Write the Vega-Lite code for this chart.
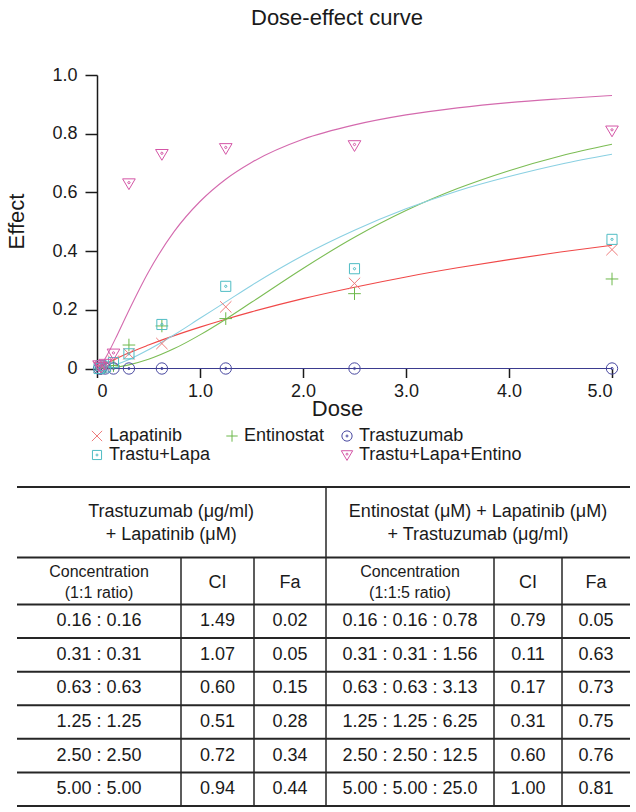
{
  "$schema": "https://vega.github.io/schema/vega-lite/v6.json",
  "width": 636,
  "height": 812,
  "autosize": "none",
  "padding": 0,
  "background": "white",
  "title": {"text": "Dose-effect curve", "fontSize": 22, "font": "Liberation Sans", "fontWeight": "normal", "color": "#1a1a1a", "anchor": "middle", "offset": 0, "dx": 19, "dy": 30},
  "config": {
    "font": "Liberation Sans",
    "view": {"stroke": null},
    "axis": {"grid": false, "labelFont": "Liberation Sans", "labelFontSize": 18, "labelColor": "#1a1a1a", "tickColor": "#1a1a1a", "tickWidth": 1.5, "domainColor": "#1a1a1a", "domainWidth": 1.5, "titleFont": "Liberation Sans", "titleFontSize": 22, "titleFontWeight": "normal", "titleColor": "#1a1a1a"},
    "text": {"font": "Liberation Sans", "color": "#1a1a1a"}
  },
  "datasets": {
    "curves": [
      {"series": "Trastu+Lapa+Entino", "dose": 0.02, "effect": 0.005},
      {"series": "Trastu+Lapa+Entino", "dose": 0.05, "effect": 0.018},
      {"series": "Trastu+Lapa+Entino", "dose": 0.1, "effect": 0.047},
      {"series": "Trastu+Lapa+Entino", "dose": 0.2, "effect": 0.117},
      {"series": "Trastu+Lapa+Entino", "dose": 0.3, "effect": 0.191},
      {"series": "Trastu+Lapa+Entino", "dose": 0.5, "effect": 0.329},
      {"series": "Trastu+Lapa+Entino", "dose": 0.75, "effect": 0.467},
      {"series": "Trastu+Lapa+Entino", "dose": 1.0, "effect": 0.569},
      {"series": "Trastu+Lapa+Entino", "dose": 1.25, "effect": 0.645},
      {"series": "Trastu+Lapa+Entino", "dose": 1.5, "effect": 0.702},
      {"series": "Trastu+Lapa+Entino", "dose": 2.0, "effect": 0.781},
      {"series": "Trastu+Lapa+Entino", "dose": 2.5, "effect": 0.83},
      {"series": "Trastu+Lapa+Entino", "dose": 3.0, "effect": 0.864},
      {"series": "Trastu+Lapa+Entino", "dose": 3.5, "effect": 0.888},
      {"series": "Trastu+Lapa+Entino", "dose": 4.0, "effect": 0.906},
      {"series": "Trastu+Lapa+Entino", "dose": 4.5, "effect": 0.919},
      {"series": "Trastu+Lapa+Entino", "dose": 5.0, "effect": 0.93},
      {"series": "Lapatinib", "dose": 0.02, "effect": 0.0045},
      {"series": "Lapatinib", "dose": 0.05, "effect": 0.0104},
      {"series": "Lapatinib", "dose": 0.1, "effect": 0.019},
      {"series": "Lapatinib", "dose": 0.2, "effect": 0.036},
      {"series": "Lapatinib", "dose": 0.3, "effect": 0.052},
      {"series": "Lapatinib", "dose": 0.5, "effect": 0.08},
      {"series": "Lapatinib", "dose": 0.75, "effect": 0.112},
      {"series": "Lapatinib", "dose": 1.0, "effect": 0.141},
      {"series": "Lapatinib", "dose": 1.25, "effect": 0.168},
      {"series": "Lapatinib", "dose": 1.5, "effect": 0.193},
      {"series": "Lapatinib", "dose": 2.0, "effect": 0.238},
      {"series": "Lapatinib", "dose": 2.5, "effect": 0.277},
      {"series": "Lapatinib", "dose": 3.0, "effect": 0.312},
      {"series": "Lapatinib", "dose": 3.5, "effect": 0.343},
      {"series": "Lapatinib", "dose": 4.0, "effect": 0.371},
      {"series": "Lapatinib", "dose": 4.5, "effect": 0.397},
      {"series": "Lapatinib", "dose": 5.0, "effect": 0.42},
      {"series": "Entinostat", "dose": 0.02, "effect": 0.0001},
      {"series": "Entinostat", "dose": 0.05, "effect": 0.0003},
      {"series": "Entinostat", "dose": 0.1, "effect": 0.0013},
      {"series": "Entinostat", "dose": 0.2, "effect": 0.0051},
      {"series": "Entinostat", "dose": 0.3, "effect": 0.0115},
      {"series": "Entinostat", "dose": 0.5, "effect": 0.0313},
      {"series": "Entinostat", "dose": 0.75, "effect": 0.0678},
      {"series": "Entinostat", "dose": 1.0, "effect": 0.1146},
      {"series": "Entinostat", "dose": 1.25, "effect": 0.168},
      {"series": "Entinostat", "dose": 1.5, "effect": 0.2255},
      {"series": "Entinostat", "dose": 2.0, "effect": 0.341},
      {"series": "Entinostat", "dose": 2.5, "effect": 0.447},
      {"series": "Entinostat", "dose": 3.0, "effect": 0.538},
      {"series": "Entinostat", "dose": 3.5, "effect": 0.613},
      {"series": "Entinostat", "dose": 4.0, "effect": 0.674},
      {"series": "Entinostat", "dose": 4.5, "effect": 0.724},
      {"series": "Entinostat", "dose": 5.0, "effect": 0.764},
      {"series": "Trastu+Lapa", "dose": 0.02, "effect": 0.0004},
      {"series": "Trastu+Lapa", "dose": 0.05, "effect": 0.0017},
      {"series": "Trastu+Lapa", "dose": 0.1, "effect": 0.0051},
      {"series": "Trastu+Lapa", "dose": 0.2, "effect": 0.0154},
      {"series": "Trastu+Lapa", "dose": 0.3, "effect": 0.029},
      {"series": "Trastu+Lapa", "dose": 0.5, "effect": 0.064},
      {"series": "Trastu+Lapa", "dose": 0.75, "effect": 0.115},
      {"series": "Trastu+Lapa", "dose": 1.0, "effect": 0.171},
      {"series": "Trastu+Lapa", "dose": 1.25, "effect": 0.227},
      {"series": "Trastu+Lapa", "dose": 1.5, "effect": 0.283},
      {"series": "Trastu+Lapa", "dose": 2.0, "effect": 0.385},
      {"series": "Trastu+Lapa", "dose": 2.5, "effect": 0.471},
      {"series": "Trastu+Lapa", "dose": 3.0, "effect": 0.544},
      {"series": "Trastu+Lapa", "dose": 3.5, "effect": 0.605},
      {"series": "Trastu+Lapa", "dose": 4.0, "effect": 0.654},
      {"series": "Trastu+Lapa", "dose": 4.5, "effect": 0.696},
      {"series": "Trastu+Lapa", "dose": 5.0, "effect": 0.73},
      {"series": "Trastuzumab", "dose": 0, "effect": 0},
      {"series": "Trastuzumab", "dose": 5.0, "effect": 0}
    ],
    "points": [
      {"series": "Lapatinib", "dose": 0.02, "effect": 0.005},
      {"series": "Lapatinib", "dose": 0.04, "effect": 0.005},
      {"series": "Lapatinib", "dose": 0.08, "effect": 0.01},
      {"series": "Lapatinib", "dose": 0.16, "effect": 0.025},
      {"series": "Lapatinib", "dose": 0.31, "effect": 0.05},
      {"series": "Lapatinib", "dose": 0.63, "effect": 0.085},
      {"series": "Lapatinib", "dose": 1.25, "effect": 0.21},
      {"series": "Lapatinib", "dose": 2.5, "effect": 0.29},
      {"series": "Lapatinib", "dose": 5.0, "effect": 0.405},
      {"series": "Entinostat", "dose": 0.04, "effect": 0.0},
      {"series": "Entinostat", "dose": 0.08, "effect": 0.005},
      {"series": "Entinostat", "dose": 0.16, "effect": 0.01},
      {"series": "Entinostat", "dose": 0.31, "effect": 0.08},
      {"series": "Entinostat", "dose": 0.63, "effect": 0.145},
      {"series": "Entinostat", "dose": 1.25, "effect": 0.17},
      {"series": "Entinostat", "dose": 2.5, "effect": 0.255},
      {"series": "Entinostat", "dose": 5.0, "effect": 0.305},
      {"series": "Trastuzumab", "dose": 0.02, "effect": 0},
      {"series": "Trastuzumab", "dose": 0.04, "effect": 0},
      {"series": "Trastuzumab", "dose": 0.08, "effect": 0},
      {"series": "Trastuzumab", "dose": 0.16, "effect": 0},
      {"series": "Trastuzumab", "dose": 0.31, "effect": 0},
      {"series": "Trastuzumab", "dose": 0.63, "effect": 0},
      {"series": "Trastuzumab", "dose": 1.25, "effect": 0},
      {"series": "Trastuzumab", "dose": 2.5, "effect": 0},
      {"series": "Trastuzumab", "dose": 5.0, "effect": 0},
      {"series": "Trastu+Lapa", "dose": 0.02, "effect": 0.0},
      {"series": "Trastu+Lapa", "dose": 0.04, "effect": 0.01},
      {"series": "Trastu+Lapa", "dose": 0.08, "effect": 0.005},
      {"series": "Trastu+Lapa", "dose": 0.16, "effect": 0.02},
      {"series": "Trastu+Lapa", "dose": 0.31, "effect": 0.05},
      {"series": "Trastu+Lapa", "dose": 0.63, "effect": 0.15},
      {"series": "Trastu+Lapa", "dose": 1.25, "effect": 0.28},
      {"series": "Trastu+Lapa", "dose": 2.5, "effect": 0.34},
      {"series": "Trastu+Lapa", "dose": 5.0, "effect": 0.44},
      {"series": "Trastu+Lapa+Entino", "dose": 0.02, "effect": 0.01},
      {"series": "Trastu+Lapa+Entino", "dose": 0.04, "effect": 0.005},
      {"series": "Trastu+Lapa+Entino", "dose": 0.08, "effect": 0.015},
      {"series": "Trastu+Lapa+Entino", "dose": 0.16, "effect": 0.05},
      {"series": "Trastu+Lapa+Entino", "dose": 0.31, "effect": 0.63},
      {"series": "Trastu+Lapa+Entino", "dose": 0.63, "effect": 0.73},
      {"series": "Trastu+Lapa+Entino", "dose": 1.25, "effect": 0.75},
      {"series": "Trastu+Lapa+Entino", "dose": 2.5, "effect": 0.76},
      {"series": "Trastu+Lapa+Entino", "dose": 5.0, "effect": 0.81}
    ],
    "table": [
      {"row": 1, "conc1": "0.16 : 0.16", "ci1": "1.49", "fa1": "0.02", "conc3": "0.16 : 0.16 :  0.78", "ci3": "0.79", "fa3": "0.05"},
      {"row": 2, "conc1": "0.31 : 0.31", "ci1": "1.07", "fa1": "0.05", "conc3": "0.31 : 0.31 :  1.56", "ci3": "0.11", "fa3": "0.63"},
      {"row": 3, "conc1": "0.63 : 0.63", "ci1": "0.60", "fa1": "0.15", "conc3": "0.63 : 0.63 : 3.13", "ci3": "0.17", "fa3": "0.73"},
      {"row": 4, "conc1": "1.25 : 1.25", "ci1": "0.51", "fa1": "0.28", "conc3": "1.25 : 1.25 : 6.25", "ci3": "0.31", "fa3": "0.75"},
      {"row": 5, "conc1": "2.50 : 2.50", "ci1": "0.72", "fa1": "0.34", "conc3": "2.50 : 2.50 : 12.5", "ci3": "0.60", "fa3": "0.76"},
      {"row": 6, "conc1": "5.00 : 5.00", "ci1": "0.94", "fa1": "0.44", "conc3": "5.00 : 5.00 : 25.0", "ci3": "1.00", "fa3": "0.81"}
    ],
    "headers": [
      {"col": 0.94, "row": -2.26, "label": "Trastuzumab (μg/ml)\n+ Lapatinib (μM)"},
      {"col": 3.905, "row": -2.26, "label": "Entinostat (μM) + Lapatinib (μM)\n+ Trastuzumab (μg/ml)"}
    ],
    "subheaders": [
      {"col": 0.5, "row": -0.47, "label": "Concentration\n(1:1 ratio)"},
      {"col": 3.5, "row": -0.47, "label": "Concentration\n(1:1:5 ratio)"}
    ],
    "shortheaders": [
      {"col": 1.5, "row": -0.15, "label": "CI"},
      {"col": 2.5, "row": -0.15, "label": "Fa"},
      {"col": 4.5, "row": -0.15, "label": "CI"},
      {"col": 5.5, "row": -0.15, "label": "Fa"}
    ],
    "hlines": [
      {"row": -3}, {"row": -0.9}, {"row": 0.5}, {"row": 1.5}, {"row": 2.5},
      {"row": 3.5}, {"row": 4.5}, {"row": 5.5}, {"row": 6.5}
    ],
    "vlines": [
      {"col": 3, "row": -3}, {"col": 1, "row": -0.9}, {"col": 2, "row": -0.9},
      {"col": 4, "row": -0.9}, {"col": 5, "row": -0.9}
    ]
  },
  "layer": [
    {
      "layer": [
        {
          "data": {"name": "curves"},
          "mark": {"type": "line", "strokeWidth": 1.1, "interpolate": "monotone"},
          "encoding": {
            "x": {"field": "dose", "type": "quantitative",
                  "scale": {"domain": [0, 5], "range": [97, 612], "nice": false, "zero": false},
                  "axis": {"values": [0, 1, 2, 3, 4, 5], "labelExpr": "datum.value == 0 ? '0' : format(datum.value, '.1f')", "domain": false, "tickSize": 9, "labelPadding": 5, "offset": -443.5, "title": "Dose", "titleX": 337, "titleY": 40, "titleBaseline": "middle"}},
            "y": {"field": "effect", "type": "quantitative",
                  "scale": {"domain": [0, 1], "range": [368.5, 75], "nice": false, "zero": false},
                  "axis": {"values": [0, 0.2, 0.4, 0.6, 0.8, 1], "labelExpr": "datum.value == 0 ? '0' : format(datum.value, '.1f')", "tickSize": 12, "labelPadding": 8, "offset": -97, "title": "Effect", "titleX": -81, "titleY": 221, "titleAngle": -90, "titleBaseline": "middle", "titleAlign": "center"}},
            "stroke": {"field": "series", "type": "nominal",
                       "scale": {"domain": ["Lapatinib", "Entinostat", "Trastuzumab", "Trastu+Lapa", "Trastu+Lapa+Entino"],
                                 "range": ["#f04848", "#7cbd55", "#3b3b8f", "#8ad0e2", "#d46aae"]},
                       "legend": null}
          }
        },
        {
          "data": {"name": "points"},
          "mark": {"type": "point", "filled": false, "size": 160, "strokeWidth": 1, "opacity": 1},
          "encoding": {
            "x": {"field": "dose", "type": "quantitative"},
            "y": {"field": "effect", "type": "quantitative"},
            "color": {"field": "series", "type": "nominal",
                      "scale": {"domain": ["Lapatinib", "Entinostat", "Trastuzumab", "Trastu+Lapa", "\u2003\u2003\u2003\u2003\u2003\u2002", "Trastu+Lapa+Entino"],
                                "range": ["#ee7b7b", "#6cb84a", "#4848a0", "#4fbcc4", "transparent", "#d455a6"]},
                      "legend": {"title": null, "orient": "none", "legendX": 88, "legendY": 427, "direction": "horizontal", "columns": 3, "gridAlign": "each", "columnPadding": 13, "rowPadding": 1, "labelFontSize": 18, "labelFont": "Liberation Sans", "labelColor": "#1a1a1a", "labelOffset": 3, "labelLimit": 300, "symbolSize": 130, "symbolStrokeWidth": 1, "padding": 0}},
            "shape": {"field": "series", "type": "nominal",
                      "scale": {"domain": ["Lapatinib", "Entinostat", "Trastuzumab", "Trastu+Lapa", "\u2003\u2003\u2003\u2003\u2003\u2002", "Trastu+Lapa+Entino"],
                                "range": [
                                  "M-0.9,-0.9L0.9,0.9M-0.9,0.9L0.9,-0.9",
                                  "M-1,0L1,0M0,-1L0,1",
                                  "M-0.9,0A0.9,0.9,0,1,0,0.9,0A0.9,0.9,0,1,0,-0.9,0ZM-0.18,0A0.18,0.18,0,1,0,0.18,0A0.18,0.18,0,1,0,-0.18,0Z",
                                  "M-0.8,-0.8L0.8,-0.8L0.8,0.8L-0.8,0.8ZM-0.18,0A0.18,0.18,0,1,0,0.18,0A0.18,0.18,0,1,0,-0.18,0Z",
                                  "circle",
                                  "M-1,-0.75L1,-0.75L0,0.95ZM-0.18,-0.15A0.18,0.18,0,1,0,0.18,-0.15A0.18,0.18,0,1,0,-0.18,-0.15Z"
                                ]}}
          }
        }
      ]
    },
    {
      "layer": [
        {
          "data": {"name": "hlines"},
          "mark": {"type": "rule", "strokeWidth": 2, "color": "#262626"},
          "encoding": {
            "x": {"datum": 0, "type": "quantitative",
                  "scale": {"domain": [0, 1, 2, 3, 4, 5, 6], "range": [17, 181, 254, 326, 494, 562, 630], "nice": false, "zero": false},
                  "axis": null},
            "x2": {"datum": 6},
            "y": {"field": "row", "type": "quantitative",
                  "scale": {"domain": [-3, 6.5], "range": [487, 806], "nice": false, "zero": false},
                  "axis": null}
          }
        },
        {
          "data": {"name": "vlines"},
          "mark": {"type": "rule", "strokeWidth": 1.5, "color": "#262626"},
          "encoding": {
            "x": {"field": "col", "type": "quantitative", "axis": null},
            "y": {"field": "row", "type": "quantitative", "axis": null},
            "y2": {"datum": 6.5}
          }
        },
        {
          "data": {"name": "headers"},
          "mark": {"type": "text", "fontSize": 18, "lineBreak": "\n", "lineHeight": 23, "baseline": "middle", "align": "center"},
          "encoding": {
            "x": {"field": "col", "type": "quantitative", "axis": null},
            "y": {"field": "row", "type": "quantitative", "axis": null},
            "text": {"field": "label"}
          }
        },
        {
          "data": {"name": "subheaders"},
          "mark": {"type": "text", "fontSize": 16, "lineBreak": "\n", "lineHeight": 21, "baseline": "middle", "align": "center"},
          "encoding": {
            "x": {"field": "col", "type": "quantitative", "axis": null},
            "y": {"field": "row", "type": "quantitative", "axis": null},
            "text": {"field": "label"}
          }
        },
        {
          "data": {"name": "shortheaders"},
          "mark": {"type": "text", "fontSize": 18, "baseline": "middle", "align": "center"},
          "encoding": {
            "x": {"field": "col", "type": "quantitative", "axis": null},
            "y": {"field": "row", "type": "quantitative", "axis": null},
            "text": {"field": "label"}
          }
        },
        {
          "data": {"name": "table"},
          "mark": {"type": "text", "fontSize": 18, "baseline": "middle", "align": "center"},
          "encoding": {"x": {"datum": 0.5, "type": "quantitative", "axis": null}, "y": {"field": "row", "type": "quantitative", "axis": null}, "text": {"field": "conc1"}}
        },
        {
          "data": {"name": "table"},
          "mark": {"type": "text", "fontSize": 18, "baseline": "middle", "align": "center"},
          "encoding": {"x": {"datum": 1.5, "type": "quantitative", "axis": null}, "y": {"field": "row", "type": "quantitative", "axis": null}, "text": {"field": "ci1"}}
        },
        {
          "data": {"name": "table"},
          "mark": {"type": "text", "fontSize": 18, "baseline": "middle", "align": "center"},
          "encoding": {"x": {"datum": 2.5, "type": "quantitative", "axis": null}, "y": {"field": "row", "type": "quantitative", "axis": null}, "text": {"field": "fa1"}}
        },
        {
          "data": {"name": "table"},
          "mark": {"type": "text", "fontSize": 18, "baseline": "middle", "align": "center"},
          "encoding": {"x": {"datum": 3.5, "type": "quantitative", "axis": null}, "y": {"field": "row", "type": "quantitative", "axis": null}, "text": {"field": "conc3"}}
        },
        {
          "data": {"name": "table"},
          "mark": {"type": "text", "fontSize": 18, "baseline": "middle", "align": "center"},
          "encoding": {"x": {"datum": 4.5, "type": "quantitative", "axis": null}, "y": {"field": "row", "type": "quantitative", "axis": null}, "text": {"field": "ci3"}}
        },
        {
          "data": {"name": "table"},
          "mark": {"type": "text", "fontSize": 18, "baseline": "middle", "align": "center"},
          "encoding": {"x": {"datum": 5.5, "type": "quantitative", "axis": null}, "y": {"field": "row", "type": "quantitative", "axis": null}, "text": {"field": "fa3"}}
        }
      ]
    }
  ],
  "resolve": {"scale": {"x": "independent", "y": "independent"}}
}
